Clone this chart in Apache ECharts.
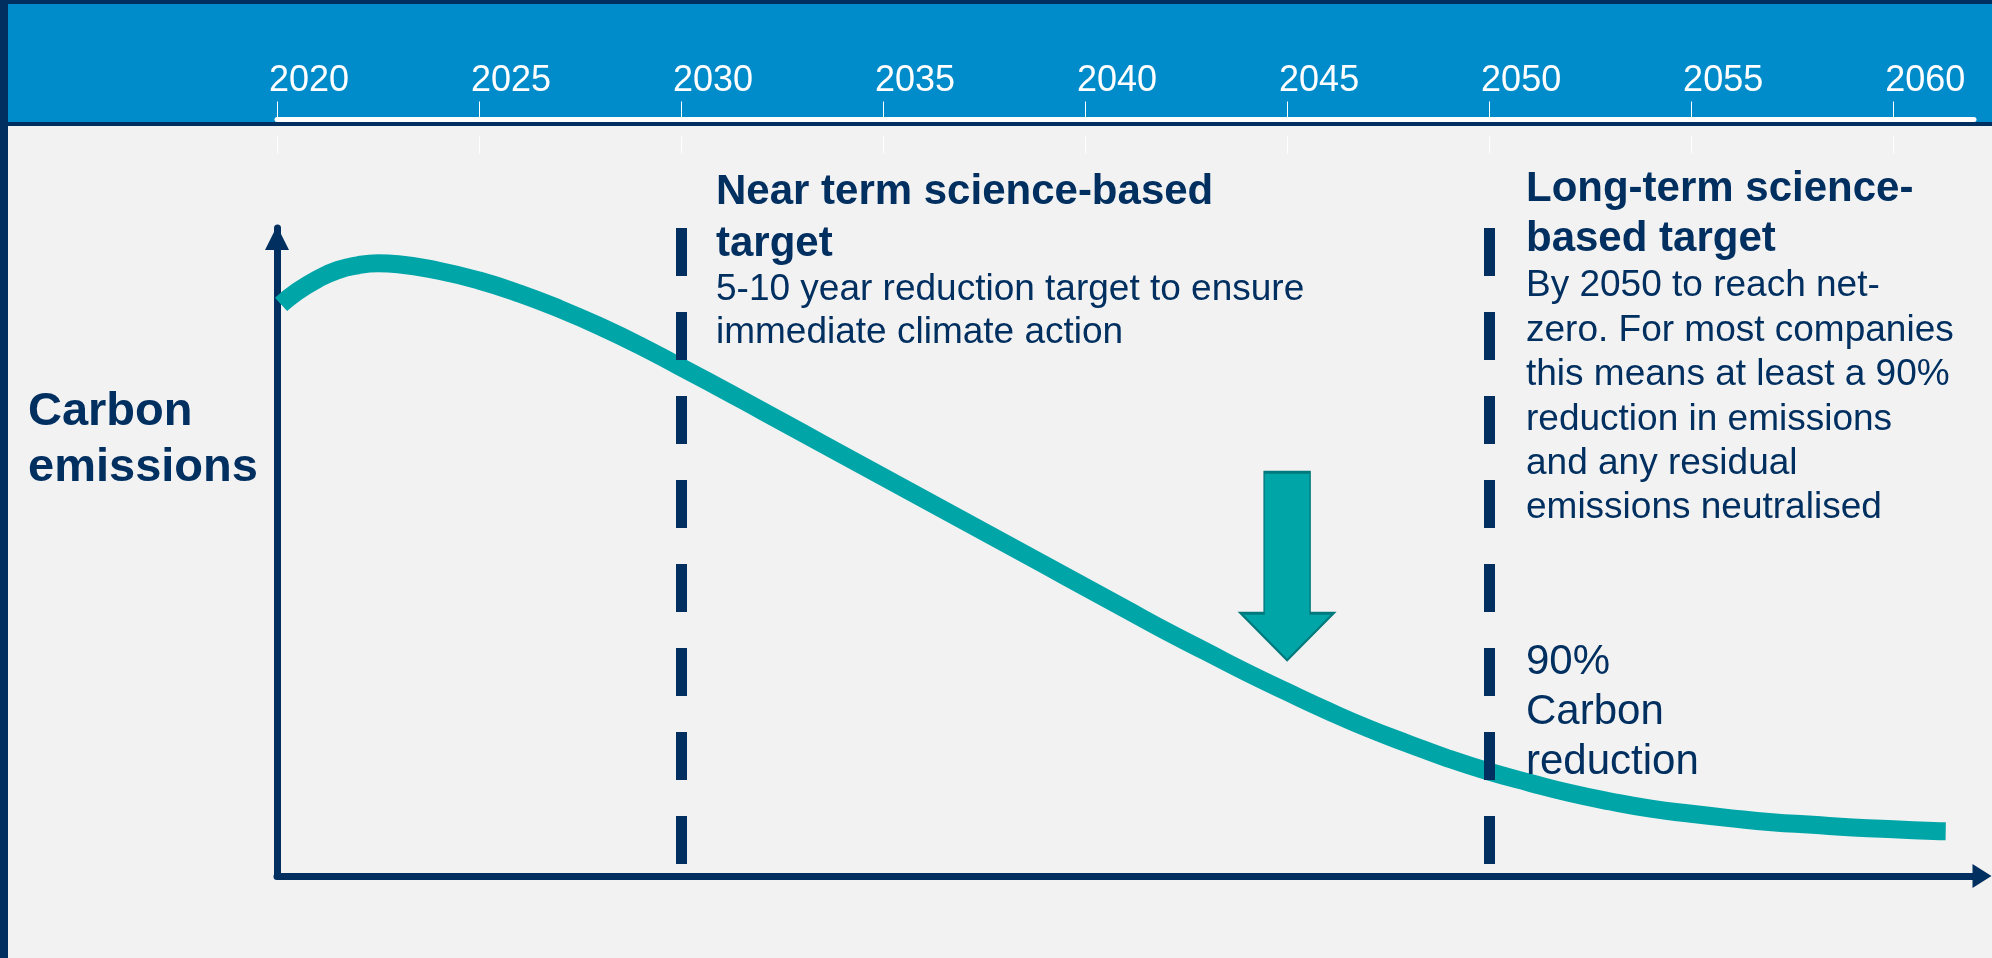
<!DOCTYPE html>
<html>
<head>
<meta charset="utf-8">
<script src="https://cdn.jsdelivr.net/npm/echarts@6/dist/echarts.min.js"></script>
<style>
html,body{margin:0;padding:0;background:#F2F2F2;}
#chart{width:1992px;height:958px;}
</style>
</head>
<body>
<div id="chart"></div>
<script>
// ---- data ----
const years = [2020.1, 2020.5, 2021, 2021.5, 2022, 2022.5, 2023, 2024, 2025, 2026, 2027, 2028, 2029,
  2030, 2031, 2032, 2033, 2034, 2035, 2036, 2037, 2038, 2039,
  2040, 2041, 2042, 2043, 2044, 2045, 2046, 2047, 2048, 2049,
  2050, 2051, 2052, 2053, 2054, 2055, 2056, 2057, 2058, 2059,
  2060, 2061, 2061.3];
const emissions = [88.2, 90.2, 92.1, 93.5, 94.25, 94.55, 94.4, 93.4, 91.9, 89.9, 87.5, 84.8, 81.8,
  78.5, 75.2, 71.8, 68.4, 65.0, 61.6, 58.2, 54.8, 51.4, 48.0,
  44.6, 41.2, 37.8, 34.6, 31.4, 28.4, 25.5, 22.8, 20.4, 18.1,
  16.1, 14.4, 12.8, 11.5, 10.4, 9.6, 8.9, 8.3, 7.9, 7.5,
  7.2, 6.95, 6.9];
const tickYears = [2020, 2025, 2030, 2035, 2040, 2045, 2050, 2055, 2060];
const targetYears = [2030, 2050];
const reductionArrowAt = [2045, 47.8];

const yAxisTitle = 'Carbon\nemissions';
const nearTitle = 'Near term science-based\ntarget';
const nearBody = '5-10 year reduction target to ensure\nimmediate climate action';
const longTitle = 'Long-term science-\nbased target';
const longBody = 'By 2050 to reach net-\nzero. For most companies\nthis means at least a 90%\nreduction in emissions\nand any residual\nemissions neutralised';
const reductionNote = '90%\nCarbon\nreduction';

// ---- styles ----
const NAVY = '#002F60';
const TEAL = '#00A5A8';
const BLUE = '#008BCB';
const FONT = "'Liberation Sans', Arial, sans-serif";
const X_MIN = 2020, X_MAX = 2062;

const chart = echarts.init(document.getElementById('chart'), null, {renderer: 'canvas'});

function txt(text, x, y, size, weight, lh) {
  return {
    type: 'text', z: 100, x: x, y: y, silent: true,
    style: {text: text, fill: NAVY, fontSize: size, fontWeight: weight,
      fontFamily: FONT, lineHeight: lh, verticalAlign: 'top', align: 'left'}
  };
}

const option = {
  backgroundColor: '#F2F2F2',
  animation: false,
  grid: [
    {left: 277, right: 18, top: 228, bottom: 82},
    {left: 277, right: 18, top: 119.5, height: 20},
    {left: 277, right: 18, top: 119.5, height: 17}
  ],
  xAxis: [
    {
      gridIndex: 0, type: 'value', min: X_MIN, max: X_MAX, position: 'bottom',
      axisLine: {show: true, onZero: false, symbol: ['none', 'triangle'],
        symbolSize: [24, 19], symbolOffset: [0, 8],
        lineStyle: {color: NAVY, width: 7}},
      axisTick: {show: false}, axisLabel: {show: false}, splitLine: {show: false}
    },
    {
      gridIndex: 1, type: 'value', min: X_MIN, max: X_MAX, position: 'top',
      axisLine: {show: true, onZero: false, lineStyle: {color: '#FFFFFF', width: 5}},
      axisTick: {show: true, length: 18, customValues: tickYears,
        lineStyle: {color: '#FFFFFF', width: 1}},
      axisLabel: {show: true, customValues: tickYears, color: '#FFFFFF',
        fontSize: 36, fontFamily: FONT, align: 'center', padding: [0, 0, 0, 64],
        margin: 20, formatter: v => String(v)},
      splitLine: {show: false}
    },
    {
      gridIndex: 2, type: 'value', min: X_MIN, max: X_MAX, position: 'top',
      axisLine: {show: false},
      axisTick: {show: true, inside: true, length: 17, customValues: tickYears,
        lineStyle: {color: '#FFFFFF', width: 1}},
      axisLabel: {show: false}, splitLine: {show: false}
    }
  ],
  yAxis: [
    {
      gridIndex: 0, type: 'value', min: 0, max: 100,
      axisLine: {show: true, onZero: false, symbol: ['none', 'triangle'],
        symbolSize: [24, 24], symbolOffset: [0, -10],
        lineStyle: {color: NAVY, width: 7}},
      axisTick: {show: false}, axisLabel: {show: false}, splitLine: {show: false}
    },
    {gridIndex: 1, type: 'value', show: false},
    {gridIndex: 2, type: 'value', show: false}
  ],
  series: [
    {
      type: 'line', xAxisIndex: 0, yAxisIndex: 0, silent: true, z: 2,
      data: years.map((y, i) => [y, emissions[i]]),
      smooth: 0.5, showSymbol: false, symbol: 'none',
      lineStyle: {color: TEAL, width: 18, cap: 'butt', join: 'round'}
    },
    {
      type: 'line', xAxisIndex: 0, yAxisIndex: 0, silent: true, z: 3,
      data: [],
      markLine: {
        silent: true, symbol: ['none', 'none'], label: {show: false},
        lineStyle: {color: NAVY, width: 11, type: [48, 36], dashOffset: 72},
        data: targetYears.map(y => ({xAxis: y}))
      },
      markPoint: {
        silent: true,
        symbol: 'path://M23.5,0 L69.5,0 L69.5,141 L93,141 L46.5,188 L0,141 L23.5,141 Z',
        symbolSize: [93, 188], symbolKeepAspect: false,
        itemStyle: {color: TEAL, borderColor: '#00797C', borderWidth: 2},
        label: {show: false},
        data: [{coord: reductionArrowAt}]
      }
    }
  ],
  graphic: [
    {type: 'rect', z: -10, silent: true, shape: {x: 0, y: 0, width: 1992, height: 126}, style: {fill: NAVY}},
    {type: 'rect', z: -9, silent: true, shape: {x: 8, y: 4, width: 1984, height: 118}, style: {fill: BLUE}},
    {type: 'rect', z: -10, silent: true, shape: {x: 0, y: 0, width: 8, height: 958}, style: {fill: NAVY}},
    txt(yAxisTitle, 28, 384, 47, 'bold', 56),
    txt(nearTitle, 716, 166, 42, 'bold', 52),
    txt(nearBody, 716, 268, 37, 'normal', 43),
    txt(longTitle, 1526, 164, 42, 'bold', 50),
    txt(longBody, 1526, 264, 37, 'normal', 44.4),
    txt(reductionNote, 1526, 637, 42, 'normal', 50)
  ]
};
chart.setOption(option);
</script>
</body>
</html>
